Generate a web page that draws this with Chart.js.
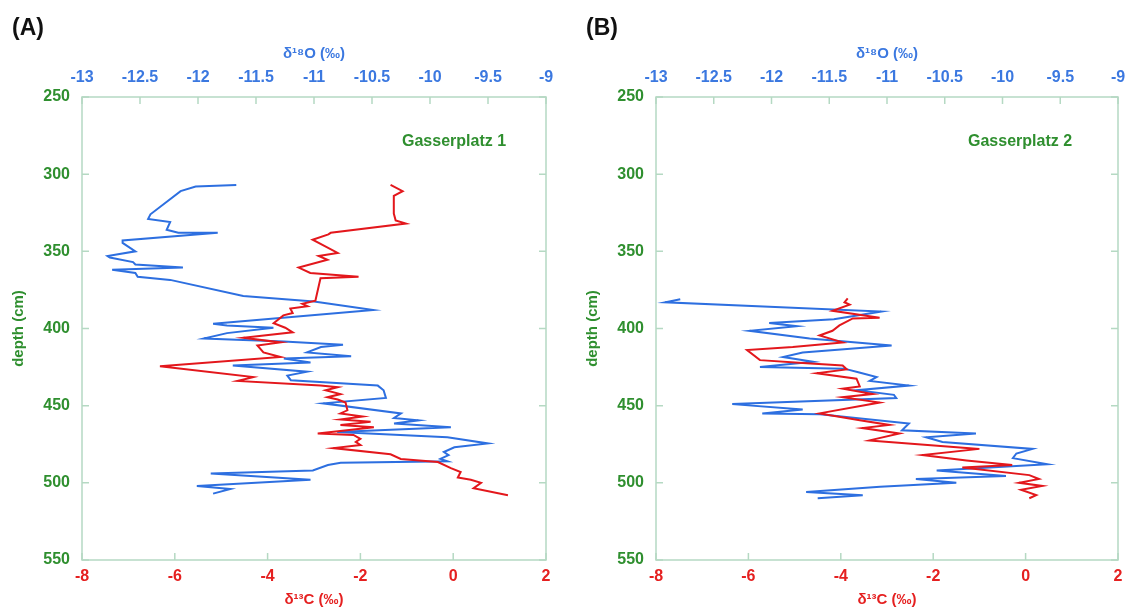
<!DOCTYPE html>
<html>
<head>
<meta charset="utf-8">
<script src="https://cdn.jsdelivr.net/npm/chart.js@4.4.0/dist/chart.umd.min.js"></script>
<style>
  body { margin: 0; background: #fff; }
  #wrap { position: relative; width: 1127px; height: 612px; font-family: "Liberation Sans", Arial, sans-serif; }
  .panel { position: absolute; top: 0; height: 612px; }
  .tag { position: absolute; font-weight: bold; font-size: 23px; color: #111; }
  .site { position: absolute; font-weight: bold; font-size: 16px; color: #2f8f2f; }
</style>
</head>
<body>
<div id="wrap">
  <div class="panel" style="left:0;width:563px"><canvas id="graficoA"></canvas></div>
  <div class="panel" style="left:574px;width:553px"><canvas id="graficoB"></canvas></div>
  <div class="tag" style="left:12px;top:14px">(A)</div>
  <div class="tag" style="left:586px;top:14px">(B)</div>
  <div class="site" style="left:402px;top:132px">Gasserplatz 1</div>
  <div class="site" style="left:968px;top:132px">Gasserplatz 2</div>
</div>
<script>
  // tick labels
  const ticksDepth = [250, 300, 350, 400, 450, 500, 550];
  const ticksO18 = [-13, -12.5, -12, -11.5, -11, -10.5, -10, -9.5, -9];
  const ticksC13 = [-8, -6, -4, -2, 0, 2];

  // Gasserplatz 1
  const depthO18A = [307, 308, 311, 326, 329, 331, 336, 338, 338, 343, 344.5, 350, 353, 354, 357, 358.5, 360.5, 362, 364, 366.5, 368.5, 379, 382.5, 388, 397, 398, 399.5, 403, 406.5, 408.5, 410.5, 412, 415.5, 418, 419.5, 422, 424, 428, 430.5, 433.5, 437, 440, 445, 448.5, 455, 458, 459.5, 461.5, 464, 467, 470.5, 474.5, 477, 480, 482, 484.5, 486, 487, 488.5, 492, 494, 498, 502, 504, 507];
  const o18A = [-11.67, -12.02, -12.15, -12.41, -12.43, -12.24, -12.27, -12.17, -11.83, -12.65, -12.65, -12.54, -12.78, -12.76, -12.56, -12.54, -12.13, -12.74, -12.54, -12.52, -12.24, -11.61, -11.0, -10.49, -11.87, -11.75, -11.35, -11.75, -11.95, -11.26, -10.75, -10.94, -11.06, -10.68, -11.26, -11.03, -11.7, -11.06, -11.23, -11.2, -10.45, -10.4, -10.38, -10.92, -10.25, -10.31, -10.1, -10.31, -9.82, -10.8, -9.85, -9.5, -9.79, -9.88, -9.84, -9.91, -9.85, -10.77, -10.88, -11.01, -11.89, -11.03, -12.01, -11.72, -11.87];
  const depthC13A = [307, 311, 314, 325.5, 330, 332, 338, 339, 342.5, 351, 353, 355.5, 360.5, 364, 366.5, 367.5, 382, 384, 385.5, 387, 390, 391.5, 396.5, 399.5, 402.5, 406, 409, 411, 415.5, 418.5, 424.5, 431.5, 434, 437, 438, 440, 442.5, 444.5, 446, 448, 453, 455, 457, 459, 460.5, 462.5, 464, 468, 469, 471.5, 473.5, 475.5, 477.5, 481.5, 484.5, 486.5, 490.5, 493, 496.5, 498, 500, 503.5, 508];
  const c13A = [-1.35, -1.09, -1.28, -1.28, -1.24, -1.02, -2.64, -2.69, -3.03, -2.49, -2.9, -2.71, -3.33, -3.08, -2.04, -2.86, -2.97, -3.25, -3.14, -3.51, -3.46, -3.66, -3.87, -3.62, -3.46, -4.52, -3.72, -4.22, -4.09, -3.72, -6.32, -4.31, -4.65, -2.86, -2.49, -2.75, -2.43, -2.71, -2.49, -2.32, -2.28, -2.43, -1.95, -2.43, -1.78, -2.43, -1.71, -2.92, -2.15, -2.0, -2.1, -2.0, -2.58, -1.35, -1.13, -0.33, -0.05, 0.16, 0.1, 0.38, 0.6, 0.44, 1.18];

  // Gasserplatz 2
  const depthO18B = [381, 383, 389, 394, 396.5, 398.5, 401.5, 406.5, 411, 415.5, 418.5, 421.5, 425, 426, 428.5, 431.5, 434, 437, 440, 443, 445, 449, 452.5, 455, 455.5, 461.5, 466, 468, 470.5, 473.5, 478, 481, 484, 488, 492, 495.5, 497.5, 500, 502.5, 506, 508, 510];
  const o18B = [-12.79, -12.92, -11.05, -11.46, -12.02, -11.78, -12.19, -11.67, -10.96, -11.73, -11.9, -11.64, -12.1, -11.37, -11.24, -11.09, -11.15, -10.81, -11.26, -10.94, -10.92, -12.34, -11.73, -12.08, -11.58, -10.81, -10.87, -10.23, -10.66, -10.52, -9.74, -9.88, -9.91, -9.61, -10.57, -9.97, -10.75, -10.4, -11.06, -11.7, -11.21, -11.6];
  const depthC13B = [380.5, 383, 384.5, 388.5, 393, 393.5, 398, 401.5, 404.5, 409, 412, 414, 420.5, 422.5, 424, 426.5, 429, 432.5, 437.5, 439, 442.5, 444.5, 448, 455, 459.5, 462.5, 464.5, 468, 472.5, 478, 482, 485.5, 488.5, 490, 495, 497.5, 500, 502, 504.5, 508, 510];
  const c13B = [-3.85, -3.92, -3.81, -4.18, -3.16, -3.74, -4.03, -4.18, -4.46, -3.96, -5.04, -6.03, -5.75, -4.74, -3.96, -3.87, -4.52, -3.66, -3.59, -3.96, -3.31, -3.96, -3.16, -4.46, -3.59, -2.95, -3.53, -2.73, -3.38, -1.0, -2.23, -1.28, -0.29, -1.37, 0.08, 0.29, -0.14, 0.36, -0.1, 0.23, 0.08];

  const corAzul = '#2d6fe0';
  const corVermelho = '#e3171c';
  const corVerde = '#2f8f2f';
  const corMoldura = '#b5d9c3';
  const fonte = "'Liberation Sans', Arial, sans-serif";

  // frame with inward ticks on all four sides
  const moldura = {
    id: 'moldura',
    beforeDatasetsDraw(chart) {
      const { ctx, chartArea: a, scales } = chart;
      ctx.save();
      ctx.strokeStyle = corMoldura;
      ctx.lineWidth = 1.5;
      ctx.strokeRect(a.left, a.top, a.right - a.left, a.bottom - a.top);
      ctx.beginPath();
      ticksO18.forEach(v => {
        const x = scales.xO.getPixelForValue(v);
        ctx.moveTo(x, a.top); ctx.lineTo(x, a.top + 7);
      });
      ticksC13.forEach(v => {
        const x = scales.xC.getPixelForValue(v);
        ctx.moveTo(x, a.bottom); ctx.lineTo(x, a.bottom - 7);
      });
      ticksDepth.forEach(v => {
        const y = scales.y.getPixelForValue(v);
        ctx.moveTo(a.left, y); ctx.lineTo(a.left + 7, y);
        ctx.moveTo(a.right, y); ctx.lineTo(a.right - 7, y);
      });
      ctx.stroke();
      ctx.restore();
    }
  };

  function pares(xs, ys) {
    return xs.map((v, i) => ({ x: v, y: ys[i] }));
  }

  function fixaTicks(lista) {
    return scale => { scale.ticks = lista.map(v => ({ value: v })); };
  }

  function criaGrafico(id, o18, depthO18, c13, depthC13, direita) {
    return new Chart(document.getElementById(id), {
      type: 'scatter',
      data: {
        datasets: [{
          label: 'δ13C',
          data: pares(c13, depthC13),
          xAxisID: 'xC',
          showLine: true,
          borderColor: corVermelho,
          borderWidth: 2,
          pointRadius: 0,
          tension: 0
        }, {
          label: 'δ18O',
          data: pares(o18, depthO18),
          xAxisID: 'xO',
          showLine: true,
          borderColor: corAzul,
          borderWidth: 2,
          pointRadius: 0,
          tension: 0
        }]
      },
      options: {
        responsive: true,
        maintainAspectRatio: false,
        animation: false,
        layout: { padding: { left: 0, right: direita, top: 0, bottom: 0 } },
        plugins: { legend: { display: false }, tooltip: { enabled: false } },
        scales: {
          y: {
            position: 'left',
            reverse: true,
            min: 250,
            max: 550,
            afterBuildTicks: fixaTicks(ticksDepth),
            afterFit: s => { s.width = 82; s.paddingTop = 0; s.paddingBottom = 0; },
            grid: { display: false, drawTicks: false },
            border: { display: false },
            ticks: { color: corVerde, padding: 12, font: { family: fonte, size: 16, weight: 'bold' } },
            title: { display: true, text: 'depth (cm)', color: corVerde, padding: { top: 10 }, font: { family: fonte, size: 15, weight: 'bold' } }
          },
          xO: {
            position: 'top',
            min: -13,
            max: -9,
            afterBuildTicks: fixaTicks(ticksO18),
            afterFit: s => { s.height = 97; s.paddingLeft = 0; s.paddingRight = 0; },
            grid: { display: false, drawTicks: false },
            border: { display: false },
            ticks: { color: '#3b78e0', padding: 10, maxRotation: 0, autoSkip: false, callback: v => String(v), font: { family: fonte, size: 16, weight: 'bold' } },
            title: { display: true, text: 'δ¹⁸O (‰)', color: '#3b78e0', padding: { top: 45, bottom: 0 }, font: { family: fonte, size: 15, weight: 'bold' } }
          },
          xC: {
            position: 'bottom',
            min: -8,
            max: 2,
            afterBuildTicks: fixaTicks(ticksC13),
            afterFit: s => { s.height = 52; s.paddingLeft = 0; s.paddingRight = 0; },
            grid: { display: false, drawTicks: false },
            border: { display: false },
            ticks: { color: '#e52020', padding: 7, maxRotation: 0, autoSkip: false, callback: v => String(v), font: { family: fonte, size: 16, weight: 'bold' } },
            title: { display: true, text: 'δ¹³C (‰)', color: '#e52020', padding: { top: 0, bottom: 3 }, font: { family: fonte, size: 15, weight: 'bold' } }
          }
        }
      },
      plugins: [moldura]
    });
  }

  const graficoA = criaGrafico('graficoA', o18A, depthO18A, c13A, depthC13A, 17);
  const graficoB = criaGrafico('graficoB', o18B, depthO18B, c13B, depthC13B, 9);
</script>
</body>
</html>
